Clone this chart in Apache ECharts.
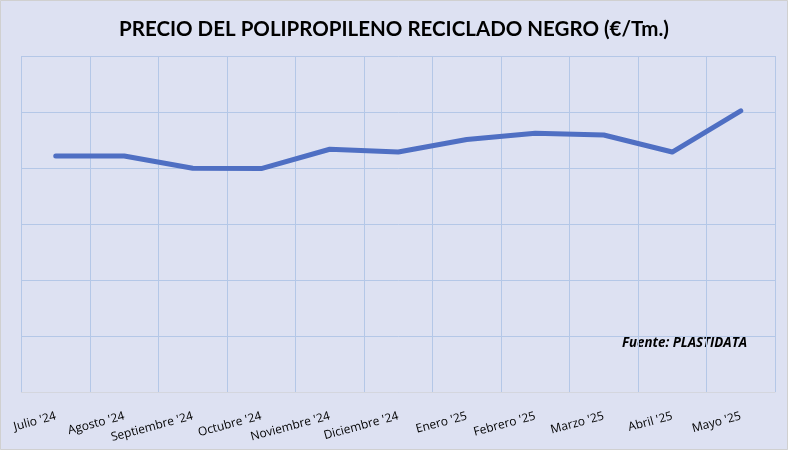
<!DOCTYPE html>
<html>
<head>
<meta charset="utf-8">
<script src="https://cdn.jsdelivr.net/npm/echarts@6/dist/echarts.min.js"></script>
<style>
  html, body { margin: 0; padding: 0; background: #fff; }
  #main { width: 788px; height: 450px; }
</style>
</head>
<body>
<div id="main"></div>
<script>
// meses
var categories = ["Julio '24", "Agosto '24", "Septiembre '24", "Octubre '24", "Noviembre '24", "Diciembre '24",
  "Enero '25", "Febrero '25", "Marzo '25", "Abril '25", "Mayo '25"];
// precio €/Tm (aprox.)
var precios = [843, 843, 799, 798, 867, 857, 902, 924, 918, 857, 1004];
var yMin = 0, yMax = 1200, yStep = 200;

var myChart = echarts.init(document.getElementById('main'));
var bg = '#dde1f2';
var option = {
  backgroundColor: bg,
  title: {
    text: 'PRECIO DEL POLIPROPILENO RECICLADO NEGRO (€/Tm.)',
    left: 'center',
    top: 14,
    textStyle: { fontFamily: 'Lato', fontSize: 20.5, fontWeight: 'bold', color: '#000' }
  },
  grid: { left: 21.5, right: 13, top: 56, bottom: 58, containLabel: false },
  xAxis: {
    type: 'category',
    data: categories,
    boundaryGap: true,
    axisLine: { lineStyle: { color: '#d4d6de', width: 1 } },
    axisTick: { show: false },
    splitLine: { show: true, lineStyle: { color: '#b4c7e7', width: 1 } },
    axisLabel: {
      rotate: 15, interval: 0, margin: 24,
      fontFamily: 'Open Sans', fontSize: 12, color: '#000'
    }
  },
  yAxis: {
    type: 'value',
    min: yMin, max: yMax, interval: yStep,
    axisLabel: { show: false },
    axisLine: { show: false },
    axisTick: { show: false },
    splitLine: { lineStyle: { color: '#b4c7e7', width: 1 } }
  },
  series: [{
    type: 'line',
    data: precios,
    symbol: 'none',
    lineStyle: { color: '#4f6fc3', width: 5, cap: 'round', join: 'round' }
  }],
  graphic: [{
    type: 'text',
    left: 618, top: 334,
    style: {
      text: 'Fuente: PLASTIDATA',
      font: 'italic bold 13.3px "Open Sans"',
      fill: '#000',
      backgroundColor: bg,
      padding: [3, 4]
    }
  }, {
    type: 'rect',
    shape: { x: 0.5, y: 0.5, width: 787, height: 449 },
    style: { fill: 'none', stroke: '#d0d0d0', lineWidth: 1 },
    silent: true
  }]
};
myChart.setOption(option);
</script>
</body>
</html>
